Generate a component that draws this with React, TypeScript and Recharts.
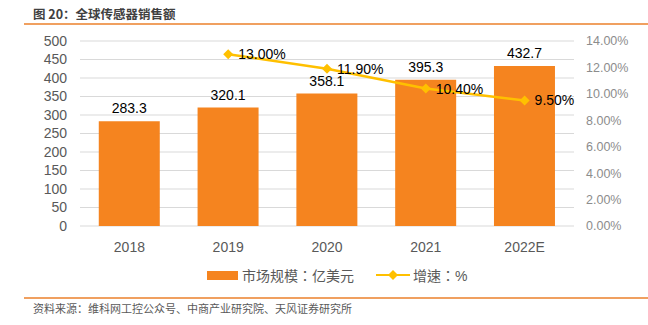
import React from "react";
import {
  ComposedChart,
  Bar,
  Line,
  XAxis,
  YAxis,
  CartesianGrid,
  LabelList,
} from "recharts";

const years = ["2018", "2019", "2020", "2021", "2022E"];
const marketSize = [283.3, 320.1, 358.1, 395.3, 432.7];
const growth = [null, 13.0, 11.9, 10.4, 9.5];
const leftTicks = [0, 50, 100, 150, 200, 250, 300, 350, 400, 450, 500];
const rightTicks = [0, 2, 4, 6, 8, 10, 12, 14];

const data = years.map((year, i) => ({
  year,
  size: marketSize[i],
  growth: growth[i],
}));

const FONT = '"Liberation Sans", Arial, "Noto Sans CJK SC", sans-serif';
const ORANGE = "#F5841F";
const GOLD = "#FFC000";

const Diamond = (props: any) => {
  const { cx, cy, value } = props;
  if (value == null || cx == null) return null;
  const r = 5;
  return (
    <path
      d={`M${cx},${cy - r} L${cx + r},${cy} L${cx},${cy + r} L${cx - r},${cy} Z`}
      fill={GOLD}
    />
  );
};

const LegendBox = () => (
  <div
    style={{
      position: "absolute",
      left: 207,
      top: 266,
      display: "flex",
      alignItems: "center",
      fontFamily: '"Liberation Sans", "Noto Sans CJK TC", sans-serif',
      fontSize: 14,
      color: "#595959",
      height: 18,
    }}
  >
    <span
      style={{ width: 31, height: 9, background: ORANGE, display: "inline-block", marginRight: 4 }}
    />
    <span>市场规模：亿美元</span>
    <svg width={34} height={12} style={{ marginLeft: 22, marginRight: 3 }}>
      <line x1={0} y1={6} x2={34} y2={6} stroke={GOLD} strokeWidth={2} />
      <path d="M17,1 L22,6 L17,11 L12,6 Z" fill={GOLD} />
    </svg>
    <span>增速：%</span>
  </div>
);

export default function App() {
  return (
    <div
      style={{
        position: "absolute",
        left: 0,
        top: 0,
        width: 648,
        height: 325,
        background: "#fff",
        fontFamily: FONT,
      }}
    >
      <div
        style={{
          position: "absolute",
          left: 33,
          top: 4,
          fontSize: 12.5,
          fontWeight: "bold",
          color: "#404040",
          fontFamily: '"Noto Sans CJK SC", sans-serif',
        }}
      >
        图 20：全球传感器销售额
      </div>
      <div
        style={{ position: "absolute", left: 24, right: 0, top: 23, height: 1.5, background: "#F0A060" }}
      />
      <ComposedChart
        width={648}
        height={325}
        data={data}
        margin={{ top: 41, right: 0, bottom: 71, left: 0 }}
        barCategoryGap="19%"
      >
        <CartesianGrid vertical={false} stroke="#d9d9d9" yAxisId="left" />
        <XAxis
          dataKey="year"
          axisLine={false}
          tickLine={false}
          tick={{ fill: "#595959", fontSize: 14, fontFamily: FONT }}
          tickMargin={10}
          height={28}
        />
        <YAxis
          yAxisId="left"
          domain={[0, 500]}
          ticks={leftTicks}
          interval={0}
          axisLine={false}
          tickLine={false}
          tickSize={0}
          tickMargin={13}
          width={80}
          tick={{ fill: "#595959", fontSize: 14, fontFamily: FONT }}
        />
        <YAxis
          yAxisId="right"
          orientation="right"
          domain={[0, 14]}
          ticks={rightTicks}
          interval={0}
          axisLine={false}
          tickLine={false}
          tickSize={0}
          tickMargin={12}
          width={74}
          tickFormatter={(v: number) => `${v.toFixed(2)}%`}
          tick={{ fill: "#8c8c8c", fontSize: 12.5, fontFamily: FONT }}
        />
        <Bar yAxisId="left" dataKey="size" fill={ORANGE} isAnimationActive={false}>
          <LabelList
            dataKey="size"
            position="top"
            offset={8}
            fill="#000"
            fontSize={14}
            fontFamily={FONT}
            formatter={(v: any) => Number(v).toFixed(1)}
          />
        </Bar>
        <Line
          yAxisId="right"
          dataKey="growth"
          stroke={GOLD}
          strokeWidth={2.5}
          dot={<Diamond />}
          activeDot={false}
          connectNulls={false}
          isAnimationActive={false}
        >
          <LabelList
            dataKey="growth"
            position="right"
            offset={10}
            fill="#000"
            fontSize={14}
            fontFamily={FONT}
            formatter={(v: any) => (v == null ? "" : `${Number(v).toFixed(2)}%`)}
          />
        </Line>
      </ComposedChart>
      <LegendBox />
      <div
        style={{ position: "absolute", left: 24, right: 0, top: 297, height: 1.5, background: "#F0A060" }}
      />
      <div
        style={{
          position: "absolute",
          left: 33,
          top: 300,
          fontSize: 11,
          color: "#595959",
          fontFamily: '"Noto Sans CJK SC", sans-serif',
        }}
      >
        资料来源：维科网工控公众号、中商产业研究院、天风证券研究所
      </div>
    </div>
  );
}
